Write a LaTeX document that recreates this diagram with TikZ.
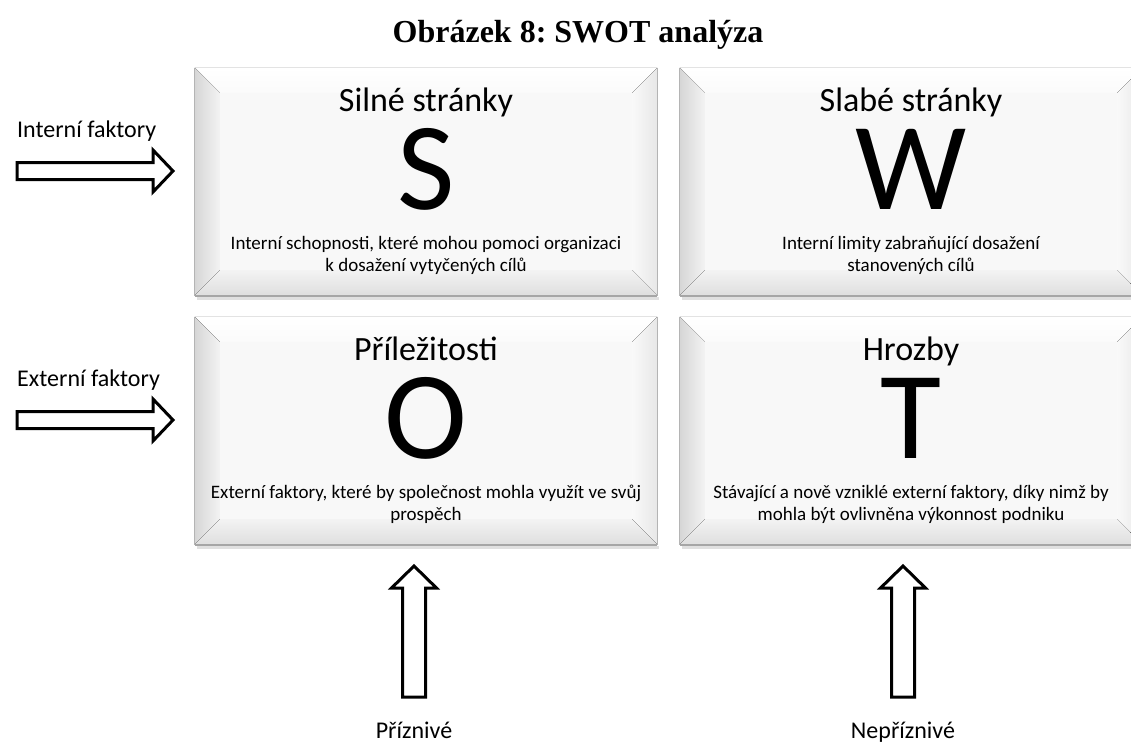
\documentclass[tikz,border=0pt]{standalone}
\usepackage{fontspec}
\setmainfont{Carlito}
\newfontfamily\captionserif{Liberation Serif}
\usetikzlibrary{calc}
\frenchspacing

\definecolor{cardface}{HTML}{F8F8F8}
\definecolor{bevdark}{HTML}{D6D6D6}
\definecolor{bevlight}{HTML}{F3F3F3}
\definecolor{cardedge}{HTML}{B4B4B4}

% one SWOT card: name, centre
\newcommand{\swotcard}[2]{%
  \node[card] (#1) at (#2) {};
  \fill[top color=white, bottom color=white!60!bevlight] (#1.north west) -- (#1.north east)
       -- ([shift={(-25,25)}]#1.north east) -- ([shift={(25,25)}]#1.north west) -- cycle;
  \fill[left color=bevdark, right color=bevlight] (#1.north west) -- ([shift={(25,25)}]#1.north west)
       -- ([shift={(25,-25)}]#1.south west) -- (#1.south west) -- cycle;
  \fill[left color=white!50!bevlight, right color=bevdark!40!bevlight] (#1.north east) -- (#1.south east)
       -- ([shift={(-25,-25)}]#1.south east) -- ([shift={(-25,25)}]#1.north east) -- cycle;
  \fill[top color=bevlight, bottom color=bevdark!70!bevlight] (#1.south west) -- ([shift={(25,-25)}]#1.south west)
       -- ([shift={(-25,-25)}]#1.south east) -- (#1.south east) -- cycle;
  \draw[cardedge, line width=1pt] (#1.north west) -- (#1.south west) -- (#1.south east) -- (#1.north east);
  \draw[black!35, line width=1.5pt] ([shift={(0,1)}]#1.south west) -- ([shift={(0,1)}]#1.south east);
  \draw[black!12, line width=3pt] ([shift={(2,3)}]#1.south west) -- ([shift={(2,3)}]#1.south east);
}

\begin{document}
\begin{tikzpicture}[x=1pt,y=-1pt,
  card/.style={minimum width=462pt,minimum height=227pt,inner sep=0pt,fill=cardface},
  cardhead/.style={font=\fontsize{34}{38}\selectfont,anchor=base,inner sep=0pt},
  letter/.style={font=\fontsize{125}{125}\selectfont,anchor=base,inner sep=0pt,
                 text height=81pt,text depth=0pt},
  note/.style={font=\fontsize{19}{22}\selectfont,align=center,anchor=base,inner sep=0pt},
  side/.style={font=\fontsize{24}{28}\selectfont,anchor=base,inner sep=0pt},
  hollow/.style={draw=black,line width=3pt,fill=white,line join=miter}]
  \useasboundingbox[fill=white] (0,0) rectangle (1131,742);

  \node[font=\captionserif\bfseries\fontsize{32}{36}\selectfont,anchor=base] (title) at (578,42) {Obrázek 8: SWOT analýza};

  \swotcard{s}{426,181.5}
  \swotcard{w}{911,181.5}
  \swotcard{o}{426,430.5}
  \swotcard{t}{911,430.5}

  % headings, letters, notes (note base = last line)
  \node[cardhead] (shead) at ($(s.north)+(0,44)$) {Silné stránky};
  \node[letter] (sletter) at ($(s.north)+(0,142)$) {S};
  \node[note] (snote) at ($(s.north)+(0,204)$) {Interní schopnosti, které mohou pomoci organizaci\\k dosažení vytyčených cílů};

  \node[cardhead] (whead) at ($(w.north)+(0,44)$) {Slabé stránky};
  \node[letter] (wletter) at ($(w.north)+(0,142)$) {W};
  \node[note] (wnote) at ($(w.north)+(0,204)$) {Interní limity zabraňující dosažení\\stanovených cílů};

  \node[cardhead] (ohead) at ($(o.north)+(0,44)$) {Příležitosti};
  \node[letter] (oletter) at ($(o.north)+(0,142)$) {O};
  \node[note] (onote) at ($(o.north)+(0,204)$) {Externí faktory, které by společnost mohla využít ve svůj\\prospěch};

  \node[cardhead] (thead) at ($(t.north)+(0,44)$) {Hrozby};
  \node[letter] (tletter) at ($(t.north)+(0,142)$) {T};
  \node[note] (tnote) at ($(t.north)+(0,204)$) {Stávající a nově vzniklé externí faktory, díky nimž by\\mohla být ovlivněna výkonnost podniku};

  % factor arrows
  \node[side,anchor=base west] (intern) at (17,137) {Interní faktory};
  \node[side,anchor=base west] (extern) at (17,386) {Externí faktory};
  \foreach \y in {171,420}
    \draw[hollow] (17,\y-8.5) -- (153,\y-8.5) -- (153,\y-21) -- (173,\y)
         -- (153,\y+21) -- (153,\y+8.5) -- (17,\y+8.5) -- cycle;

  \node[side] (fav) at (414,738) {Příznivé};
  \node[side] (unfav) at (903,738) {Nepříznivé};
  \foreach \x in {414,903}
    \draw[hollow] (\x,566) -- (\x+22.5,588) -- (\x+11.5,588) -- (\x+11.5,697)
         -- (\x-11.5,697) -- (\x-11.5,588) -- (\x-22.5,588) -- cycle;
\end{tikzpicture}
\end{document}
